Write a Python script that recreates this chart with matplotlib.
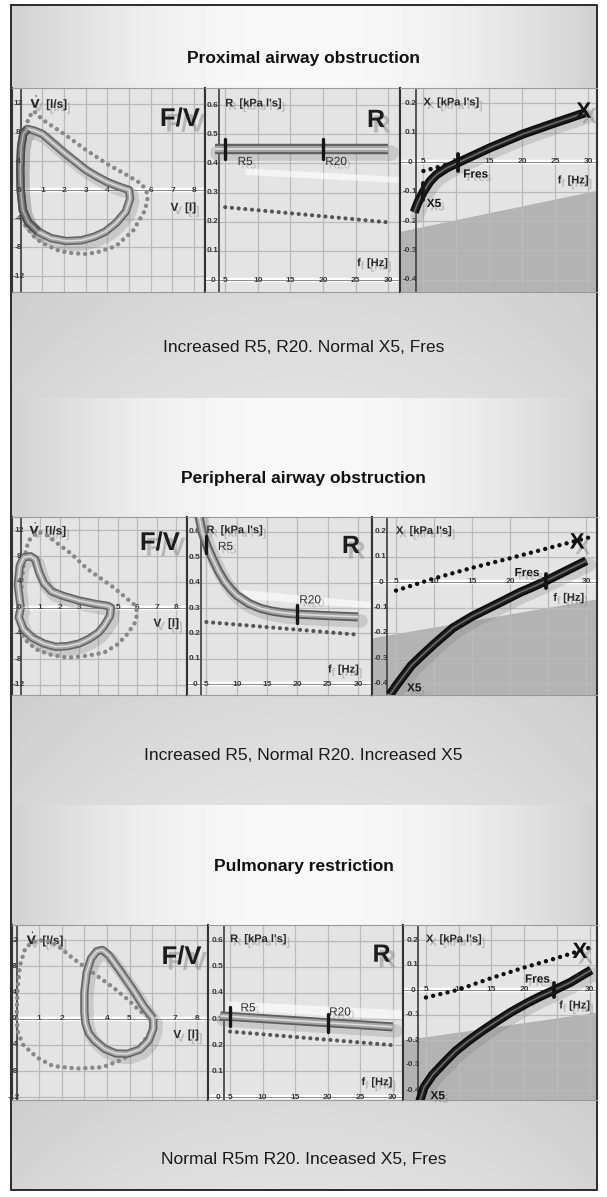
import matplotlib.pyplot as plt
import matplotlib.patheffects as pe
from matplotlib.transforms import offset_copy
import numpy as np

plt.rcParams['font.family'] = ['Liberation Sans', 'DejaVu Sans']
plt.rcParams['mathtext.fontset'] = 'dejavusans'

W, H = 607, 1197

titles = ["Proximal airway obstruction", "Peripheral airway obstruction", "Pulmonary restriction"]
captions = ["Increased R5, R20. Normal X5, Fres",
            "Increased R5, Normal R20. Increased X5",
            "Normal R5m R20. Inceased X5, Fres"]

# tick labels
fv_vol_ticks = [1, 2, 3, 4, 5, 6, 7, 8]
fv_flow_ticks = [12, 8, 4, 0, -4, -8, -12]
freq_ticks = [5, 10, 15, 20, 25, 30]
r_ticks = [0.6, 0.5, 0.4, 0.3, 0.2, 0.1]
x_ticks = [0.2, 0.1, 0, -0.1, -0.2, -0.3, -0.4]

# flow-volume loops: measured (tube) and predicted (dotted); volume [l], flow [l/s]
prox_fv_vol = [0, -0.02, 0.02, 0.12, 0.3, 0.6, 1.0, 1.5, 2.0, 2.5, 3.0, 3.5, 4.0, 4.5, 5.0,
               5.05, 4.85, 4.4, 3.9, 3.4, 2.8, 2.1, 1.4, 0.8, 0.35, 0.1, 0]
prox_fv_flow = [0, 3.0, 6.0, 7.8, 8.5, 8.3, 7.8, 6.5, 5.2, 4.0, 2.8, 1.9, 1.1, 0.5, 0.0,
                -1.2, -3.0, -4.6, -5.8, -6.5, -7.0, -7.1, -6.7, -5.8, -4.5, -2.8, 0]
prox_fv_pred_vol = [0, 0.05, 0.15, 0.35, 0.6, 1.0, 2.0, 3.0, 4.0, 5.0, 5.5, 5.8, 5.85, 5.7,
                    5.2, 4.4, 3.5, 3.0, 2.4, 1.8, 1.2, 0.7, 0.2, 0, 0]
prox_fv_pred_flow = [0, 3.0, 7.0, 10.0, 11.0, 9.8, 7.8, 5.6, 3.6, 1.9, 1.0, 0, -1.5, -3.0,
                     -5.6, -7.8, -8.7, -8.9, -8.8, -8.5, -7.7, -6.8, -4.9, -2.0, 0]

periph_fv_vol = [0, -0.15, -0.05, 0.15, 0.5, 0.75, 0.95, 1.2, 1.6, 2.2, 3.0, 3.8, 4.5, 4.65,
                 4.6, 4.3, 4.0, 3.5, 3.0, 2.4, 1.8, 1.2, 0.6, 0.15, -0.1, 0]
periph_fv_flow = [0, 3.5, 6.5, 7.8, 8.0, 7.5, 5.5, 3.8, 2.5, 1.8, 1.1, 0.6, 0.25, 0.0,
                  -1.3, -2.8, -3.9, -4.9, -5.6, -6.0, -6.1, -5.6, -4.7, -3.4, -1.5, 0]
periph_fv_pred_vol = [0, 0.05, 0.2, 0.4, 0.9, 1.4, 1.8, 2.6, 3.4, 4.1, 4.8, 5.4, 5.95, 6.0,
                      5.9, 5.5, 5.0, 4.3, 3.4, 2.4, 1.5, 0.8, 0.3, 0.0, -0.05, 0]
periph_fv_pred_flow = [0, 4.0, 8.0, 10.4, 11.8, 11.2, 10.2, 8.4, 6.1, 4.6, 3.1, 1.6, 0.2, -1.0,
                       -2.3, -4.1, -5.7, -7.0, -7.5, -7.8, -7.3, -6.5, -5.2, -3.9, -2.0, 0]

restr_fv_vol = [6.05, 5.6, 5.2, 4.6, 4.1, 3.8, 3.55, 3.3, 3.1, 3.0, 3.0, 3.05, 3.2, 3.45,
                3.9, 4.4, 4.9, 5.45, 5.85, 6.05, 6.05]
restr_fv_flow = [0, 2.0, 4.2, 7.2, 9.6, 10.5, 10.3, 9.2, 7.0, 4.0, 1.0, -0.7, -2.2, -3.3,
                 -4.6, -5.3, -5.35, -4.7, -3.3, -1.5, 0]
restr_fv_pred_vol = [0, 0.05, 0.15, 0.4, 0.9, 1.5, 1.9, 2.5, 3.1, 3.7, 4.3, 4.9, 5.45, 6.0,
                     5.9, 5.45, 4.7, 3.8, 2.65, 1.6, 0.9, 0.3, 0.07, 0]
restr_fv_pred_flow = [0, 4.7, 8.1, 10.9, 12.0, 11.8, 10.9, 9.2, 7.7, 6.2, 4.7, 3.0, 1.2, 0,
                      -2.2, -4.2, -6.2, -7.4, -7.6, -7.2, -5.9, -4.0, -2.2, 0]

# resistance R [kPa l's] vs frequency [Hz]
prox_r_freq = [3.5, 30]
prox_r = [0.45, 0.45]
prox_r_pred_freq = [5, 30]
prox_r_pred = [0.25, 0.198]
periph_r_freq = [3.7, 4.3, 5, 6, 7, 8, 9, 10, 12, 14, 16, 18, 20, 25, 30]
periph_r = [0.67, 0.6, 0.55, 0.495, 0.445, 0.405, 0.375, 0.35, 0.318, 0.298, 0.287, 0.28,
            0.276, 0.27, 0.265]
periph_r_pred_freq = [5, 30]
periph_r_pred = [0.245, 0.195]
restr_r_freq = [3.5, 30]
restr_r = [0.312, 0.27]
restr_r_pred_freq = [5, 30]
restr_r_pred = [0.252, 0.2]

# light band of the R panels
prox_band_freq = [8, 31.8]
prox_band_hi = [0.385, 0.355]
prox_band_lo = [0.362, 0.335]
periph_band_freq = [10, 32.3]
periph_band_hi = [0.375, 0.325]
periph_band_lo = [0.34, 0.3]
restr_band_freq = [4.5, 31.6]
restr_band_hi = [0.37, 0.335]
restr_band_lo = [0.335, 0.3]

# reactance X [kPa l's] vs frequency [Hz]
prox_x_freq = [3.6, 4.2, 5, 6, 7, 8.5, 10, 12.5, 15, 20, 25, 29.5]
prox_x = [-0.17, -0.135, -0.1, -0.065, -0.042, -0.02, -0.004, 0.022, 0.048, 0.095, 0.134, 0.168]
prox_x_pred_freq = [5, 6, 8, 10, 15, 20, 25, 29]
prox_x_pred = [-0.03, -0.024, -0.012, 0.0, 0.045, 0.092, 0.132, 0.165]
periph_x_freq = [4.2, 5, 6, 7, 8.2, 10, 12.5, 15, 17, 19, 21.3, 23, 24.8, 27, 30]
periph_x = [-0.445, -0.41, -0.37, -0.33, -0.295, -0.245, -0.18, -0.135, -0.105, -0.075,
            -0.04, -0.018, 0.007, 0.04, 0.085]
periph_x_pred_freq = [5, 10, 15, 20, 25, 30.5]
periph_x_pred = [-0.033, 0.015, 0.057, 0.095, 0.135, 0.178]
restr_x_freq = [4.0, 4.7, 6, 7.8, 9.5, 11.4, 13.5, 15.5, 18, 20.6, 22.5, 24.6, 27, 30.2]
restr_x = [-0.45, -0.39, -0.34, -0.29, -0.245, -0.205, -0.165, -0.13, -0.088, -0.05, -0.025,
           0.0, 0.03, 0.08]
restr_x_pred_freq = [5, 9.8, 15, 20, 25, 30.3]
restr_x_pred = [-0.03, 0.0, 0.048, 0.09, 0.128, 0.172]

# grey area of the X panels
prox_shade_freq = [1.4, 31.4]
prox_shade_top = [-0.235, -0.095]
periph_shade_freq = [1.8, 31.5]
periph_shade_top = [-0.22, -0.065]
restr_shade_freq = [1.5, 31.2]
restr_shade_top = [-0.2, -0.088]

fres = [10.25, 24.7, 24.6]

sections = [
    dict(fv=(prox_fv_vol, prox_fv_flow), fv_pred=(prox_fv_pred_vol, prox_fv_pred_flow),
         r=(prox_r_freq, prox_r), r_pred=(prox_r_pred_freq, prox_r_pred),
         band=(prox_band_freq, prox_band_lo, prox_band_hi),
         x=(prox_x_freq, prox_x), x_pred=(prox_x_pred_freq, prox_x_pred),
         shade=(prox_shade_freq, prox_shade_top)),
    dict(fv=(periph_fv_vol, periph_fv_flow), fv_pred=(periph_fv_pred_vol, periph_fv_pred_flow),
         r=(periph_r_freq, periph_r), r_pred=(periph_r_pred_freq, periph_r_pred),
         band=(periph_band_freq, periph_band_lo, periph_band_hi),
         x=(periph_x_freq, periph_x), x_pred=(periph_x_pred_freq, periph_x_pred),
         shade=(periph_shade_freq, periph_shade_top)),
    dict(fv=(restr_fv_vol, restr_fv_flow), fv_pred=(restr_fv_pred_vol, restr_fv_pred_flow),
         r=(restr_r_freq, restr_r), r_pred=(restr_r_pred_freq, restr_r_pred),
         band=(restr_band_freq, restr_band_lo, restr_band_hi),
         x=(restr_x_freq, restr_x), x_pred=(restr_x_pred_freq, restr_x_pred),
         shade=(restr_shade_freq, restr_shade_top)),
]

# pixel layout of the three blocks
layout = [
    dict(top=88, bottom=292, cuts=(12, 205, 400, 597), title_y=59, band=(292, 398), cap_y=348,
         fv_lim=((-0.4, 8.5), (-14.2, 14.2)), r_lim=((1.9, 31.8), (-0.041, 0.659)),
         x_lim=((1.45, 31.3), (-0.441, 0.252)), fv_lab=(0.87, 0.848), r_lab=(0.877, 0.843),
         x_mark=(29.3, 0.17), r5=(6.9, 0.405), r20=(22.0, 0.405), fres_lab=(12.9, -0.042),
         x5=(6.6, -0.142)),
    dict(top=517, bottom=695, cuts=(12, 187, 372, 597), title_y=478, band=(695, 805), cap_y=755,
         fv_lim=((-0.45, 8.57), (-13.6, 14.1)), r_lim=((1.8, 32.3), (-0.042, 0.658)),
         x_lim=((1.85, 31.4), (-0.446, 0.258)), fv_lab=(0.845, 0.854), r_lab=(0.886, 0.837),
         x_mark=(28.8, 0.155), r5=(6.9, 0.54), r20=(22.1, 0.33), fres_lab=(22.2, 0.036),
         x5=(7.4, -0.42)),
    dict(top=925, bottom=1100, cuts=(12, 208, 403, 597), title_y=866, band=(1100, 1190), cap_y=1160,
         fv_lim=((-0.2, 8.47), (-12.4, 14.3)), r_lim=((1.6, 31.6), (-0.01, 0.66)),
         x_lim=((1.5, 31.1), (-0.44, 0.26)), fv_lab=(0.865, 0.817), r_lab=(0.89, 0.83),
         x_mark=(28.5, 0.15), r5=(6.6, 0.341), r20=(21.9, 0.325), fres_lab=(22.0, 0.042),
         x5=(6.8, -0.425)),
]

TICK = dict(fontsize=6, fontweight='bold', color='#383838', zorder=3)
shadow = [pe.withSimplePatchShadow(offset=(2.5, -2.5), shadow_rgbFace='#8a8a8a', alpha=0.45)]
big_shadow = [pe.withSimplePatchShadow(offset=(4, -4), shadow_rgbFace='#808080', alpha=0.45)]

fig = plt.figure(figsize=(W / 100, H / 100), dpi=100)

# background: light vignette with grey caption bands
xs = np.arange(W) / W
dx = np.abs(xs - 0.5) * 2
bg = np.tile(0.975 - 0.17 * dx ** 2, (H, 1))
for lay in layout:
    b0, b1 = lay['band']
    rows = np.linspace(0, 1, b1 - b0)[:, None]
    bg[b0:b1, :] = 0.80 + 0.05 * (1 - dx ** 2)[None, :] + 0.03 * rows
bg[:, 598:] = 1.0
bg[:, :10] = 1.0
bg[1191:, :] = 1.0
bg[:5, :] = 1.0

ax_bg = fig.add_axes([0, 0, 1, 1])
ax_bg.imshow(bg, cmap='gray', vmin=0, vmax=1, extent=(0, W, H, 0), aspect='auto',
             interpolation='bilinear')
ax_bg.set_xlim(0, W)
ax_bg.set_ylim(H, 0)
ax_bg.axis('off')
ax_bg.plot([11, 597, 597, 11, 11], [5, 5, 1190, 1190, 5], color='#2b2b2b', lw=1.4)

for lay, title, cap in zip(layout, titles, captions):
    ax_bg.text(W / 2, lay['title_y'], title, ha='center', va='center', fontsize=12.5,
               fontweight='bold', color='#111111')
    ax_bg.text(W / 2, lay['cap_y'], cap, ha='center', va='center', fontsize=12.5,
               color='#1a1a1a')


def px_axes(x0, x1, top, bottom):
    return fig.add_axes([x0 / W, 1 - bottom / H, (x1 - x0) / W, (bottom - top) / H])


def panel(ax, xlim, ylim, xgrid, ygrid, yaxis_at, xaxis_at):
    ax.set_facecolor('#e4e4e4')
    ax.set_xlim(xlim)
    ax.set_ylim(ylim)
    ax.set_xticks(xgrid)
    ax.set_yticks(ygrid)
    ax.tick_params(length=0, labelbottom=False, labelleft=False)
    ax.grid(True, color='#bababa', lw=0.9, zorder=0)
    ax.set_axisbelow(True)
    for s in ['left', 'right']:
        ax.spines[s].set_color('#333333')
        ax.spines[s].set_linewidth(1.5)
    for s in ['top', 'bottom']:
        ax.spines[s].set_color('#9a9a9a')
        ax.spines[s].set_linewidth(0.8)
    ax.axhline(xaxis_at, color='white', lw=3.2, zorder=1)
    ax.axhline(xaxis_at, color='#8a8a8a', lw=0.7, zorder=1)
    ax.axvline(yaxis_at, color='#4a4a4a', lw=1.3, zorder=1)


def tube(ax, x, y, lw, dark='#666666', mid='#a6a6a6', light='#dddddd'):
    sh = offset_copy(ax.transData, fig=fig, x=3, y=-4, units='dots')
    ax.plot(x, y, color='#7a7a7a', lw=lw * 1.5, alpha=0.25, transform=sh,
            solid_capstyle='round', zorder=4)
    kw = dict(solid_capstyle='butt', solid_joinstyle='round', zorder=6)
    ax.plot(x, y, color=dark, lw=lw, **kw)
    ax.plot(x, y, color=mid, lw=lw * 0.6, **kw)
    ax.plot(x, y, color=light, lw=lw * 0.18, **kw)


def dots(ax, x, y, color, size, gap):
    ax.plot(x, y, color=color, lw=size, ls=(0, (0.01, gap)), dash_capstyle='round', zorder=5)


def tickmark(ax, x, y, h, lw=2.4):
    ax.plot([x, x], [y - h, y + h], color='#161616', lw=lw, solid_capstyle='round', zorder=7)


for i, (lay, sec) in enumerate(zip(layout, sections)):
    c0, c1, c2, c3 = lay['cuts']
    top, bot = lay['top'], lay['bottom']

    # ---- F/V panel
    ax = px_axes(c0, c1, top, bot)
    panel(ax, *lay['fv_lim'], range(0, 9), fv_flow_ticks, 0, 0)
    for v in fv_vol_ticks:
        ax.text(v, 0, str(v), ha='center', va='center', **TICK)
    for fl in fv_flow_ticks:
        ax.text(-0.1, fl, str(fl), ha='center', va='center',
                **{**TICK, 'zorder': 9})
    ax.text(0.45, 12.1, r'$\dot{\mathbf{V}}$  [l/s]', ha='left', va='center', fontsize=8.5,
            fontweight='bold', color='#2a2a2a', zorder=3, path_effects=shadow)
    ax.text(7.5, -2.5, 'V  [l]', ha='center', va='center', fontsize=8.5, fontweight='bold',
            color='#2a2a2a', zorder=3, path_effects=shadow)
    ax.text(*lay['fv_lab'], 'F/V', transform=ax.transAxes, ha='center', va='center',
            fontsize=18.5, fontweight='bold', color='#1c1c1c', path_effects=big_shadow)
    dots(ax, *sec['fv_pred'], '#888888', 3.2, 1.55)
    tube(ax, *sec['fv'], 6)
    if i == 0:
        vol, flow = sec['fv']
        tube(ax, vol[-4:] + vol[:5], flow[-4:] + flow[:5], 6, dark='#4a4a4a', mid='#7a7a7a',
             light='#b0b0b0')

    # ---- R panel
    ax = px_axes(c1, c2, top, bot)
    panel(ax, *lay['r_lim'], freq_ticks, [0.1, 0.2, 0.3, 0.4, 0.5, 0.6], 4.1, 0)
    bf, blo, bhi = sec['band']
    ax.fill_between(bf, blo, bhi, color='white', alpha=0.6, lw=0, zorder=1)
    for f in freq_ticks:
        ax.text(f, 0, str(f), ha='center', va='center', **TICK)
    ax.text(3.1, 0, '0', ha='center', va='center', **TICK)
    for r in r_ticks:
        ax.text(3.1, r, f'{r:.1f}', ha='center', va='center', **TICK)
    ax.text(5.0, 0.606, "R  [kPa l's]", ha='left', va='center', fontsize=8,
            fontweight='bold', color='#2a2a2a', zorder=3, path_effects=shadow)
    ax.text(27.6, 0.058, 'f  [Hz]', ha='center', va='center', fontsize=8,
            fontweight='bold', color='#2a2a2a', zorder=3, path_effects=shadow)
    ax.text(*lay['r_lab'], 'R', transform=ax.transAxes, ha='center', va='center',
            fontsize=18, fontweight='bold', color='#1c1c1c', path_effects=big_shadow)
    dots(ax, *sec['r_pred'], '#555555', 3.0, 1.6)
    rf, rv = sec['r']
    tube(ax, rf, rv, 7.5 if i == 0 else 6.5, dark='#5e5e5e', mid='#a4a4a4', light='#dcdcdc')
    for fq in (5, 20):
        tickmark(ax, fq, np.interp(fq, rf, rv), 0.035)
    ax.text(*lay['r5'], 'R5', ha='left', va='center', fontsize=8.5, color='#333333', zorder=8,
            path_effects=shadow)
    ax.text(*lay['r20'], 'R20', ha='center', va='center', fontsize=8.5, color='#333333', zorder=8,
            path_effects=shadow)

    # ---- X panel
    ax = px_axes(c2, c3, top, bot)
    panel(ax, *lay['x_lim'], freq_ticks, x_ticks, 3.8, 0)
    sf, st = sec['shade']
    ax.fill_between(sf, st, -1, color='#b3b3b3', lw=0, zorder=0.5)
    for f in freq_ticks:
        ax.text(f, 0.002, str(f), ha='center', va='center', **TICK)
    for xv in x_ticks:
        lab = '0' if xv == 0 else f'{xv:.1f}'
        ax.text(3.0, xv, lab, ha='center', va='center', **TICK)
    ax.text(5.0, 0.203, "X  [kPa l's]", ha='left', va='center', fontsize=8,
            fontweight='bold', color='#2a2a2a', zorder=3, path_effects=shadow)
    ax.text(27.7, -0.062, 'f  [Hz]', ha='center', va='center', fontsize=8,
            fontweight='bold', color='#2a2a2a', zorder=3, path_effects=shadow)
    dots(ax, *sec['x_pred'], '#111111', 3.2, 1.65)
    xf, xv_ = sec['x']
    tube(ax, xf, xv_, 6.5, dark='#0c0c0c', mid='#1e1e1e', light='#6a6a6a')
    tickmark(ax, fres[i], np.interp(fres[i], xf, xv_), 0.028, lw=2.8)
    if i == 0:
        tickmark(ax, 5, np.interp(5, xf, xv_), 0.028, lw=2.8)
    ax.text(*lay['x_mark'], 'X', ha='center', va='center', fontsize=16, fontweight='bold',
            color='#111111', zorder=8, path_effects=big_shadow)
    ax.text(*lay['fres_lab'], 'Fres', ha='center', va='center', fontsize=8.5, fontweight='bold',
            color='#1a1a1a', zorder=8, path_effects=shadow)
    ax.text(*lay['x5'], 'X5', ha='center', va='center', fontsize=8.5, fontweight='bold',
            color='#1a1a1a', zorder=8, path_effects=shadow)

fig.savefig('out.png', dpi=100)
